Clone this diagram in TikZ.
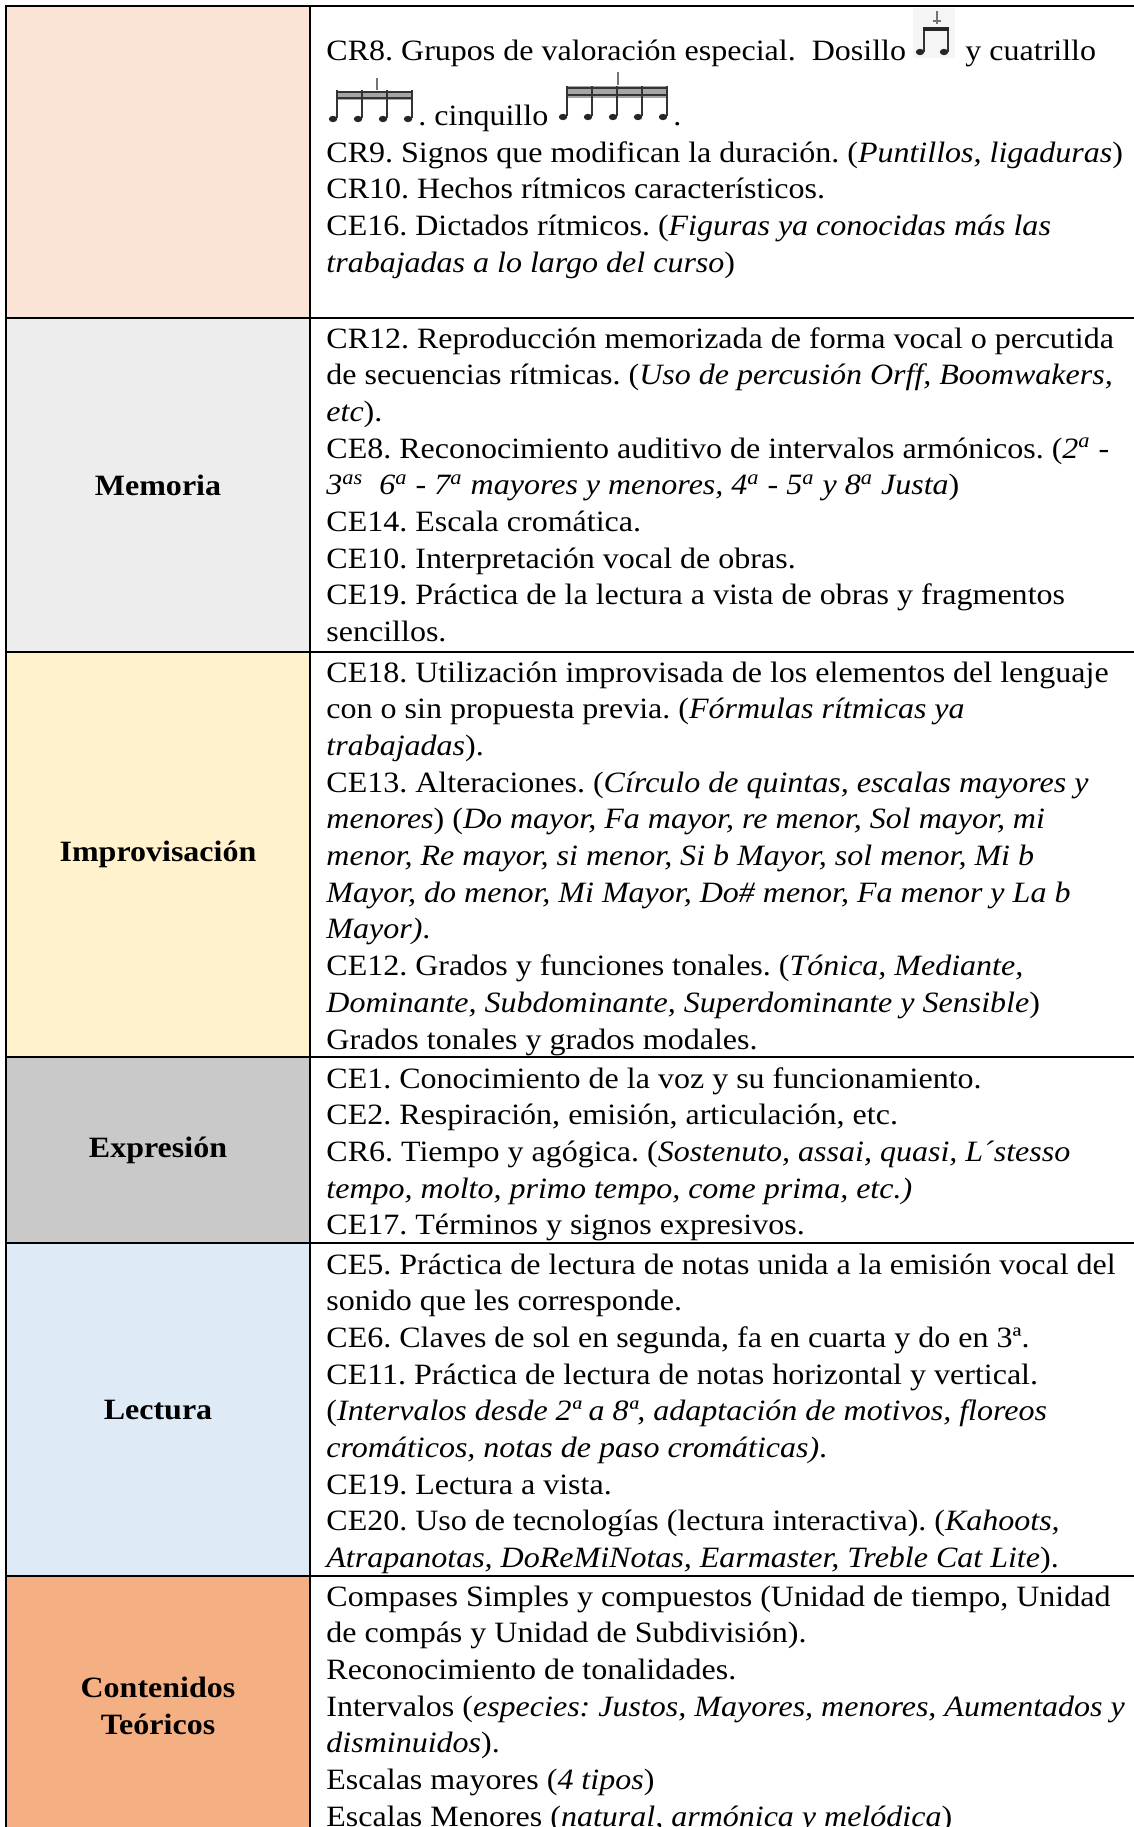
\documentclass[tikz,border=0pt]{standalone}
\usepackage{fontspec}
\setmainfont{Liberation Serif}
\usetikzlibrary{positioning}
\definecolor{rhythmfill}{HTML}{FBE4D5}
\definecolor{memfill}{HTML}{EDEDED}
\definecolor{improfill}{HTML}{FFF2CC}
\definecolor{exprfill}{HTML}{C9C9C9}
\definecolor{lectfill}{HTML}{DEEAF6}
\definecolor{teofill}{HTML}{F4B083}
\frenchspacing

\begin{document}
\begin{tikzpicture}[
    x=0.5pt, y=-0.5pt,
    rule/.style={line width=1.2pt, black},
    cell/.style={anchor=base west, inner sep=0pt, xscale=1.085, font=\fontsize{14.75}{18.35}\selectfont},
    lbl/.style={inner sep=0pt, xscale=1.085, align=center, font=\fontsize{14.75}{18.35}\selectfont\bfseries},
    head/.style={fill=black!85},
    stem/.style={line width=0.7pt, black!80},
    beam/.style={line width=1.3pt, black!80}
]
\clip (0,0) rectangle (1134,1827);

% Cell backgrounds
\fill[rhythmfill] (6,6) rectangle (310,318);
\fill[memfill] (6,318) rectangle (310,652);
\fill[improfill] (6,652) rectangle (310,1057);
\fill[exprfill] (6,1057) rectangle (310,1243);
\fill[lectfill] (6,1243) rectangle (310,1576);
\fill[teofill] (6,1576) rectangle (310,1840);

% Table rules
\draw[rule] (6,6) -- (1140,6);
\draw[rule] (6,318) -- (1140,318);
\draw[rule] (6,652) -- (1140,652);
\draw[rule] (6,1057) -- (1140,1057);
\draw[rule] (6,1243) -- (1140,1243);
\draw[rule] (6,1576) -- (1140,1576);
\draw[rule] (6,5) -- (6,1840);
\draw[rule] (310,5) -- (310,1840);

% Row labels
\node[lbl] (memoria) at (158,485) {Memoria};
\node[lbl] (improv) at (158,854) {Improvisación};
\node[lbl] (expr) at (158,1150) {Expresión};
\node[lbl] (lect) at (158,1410) {Lectura};
\node[lbl] (teoria) at (158,1706) {Contenidos\\Teóricos};

% First row, with the rhythm figures
\node[cell] (cr8) at (326,60) {CR8. Grupos de valoración especial.\ \ Dosillo};
\node[cell] (cuatr) at (965,60) {y cuatrillo};
\node[cell] (cinq) at (418,125) {. cinquillo};
\node[cell] (cinqdot) at (673,125) {.};
\node[cell] (rhythm) at (326,162) {\parbox[t]{700pt}{\raggedright
CR9. Signos que modifican la duración. (\textit{Puntillos, ligaduras})\\
CR10. Hechos rítmicos característicos.\\
CE16. Dictados rítmicos. (\textit{Figuras ya conocidas más las}\\
\textit{trabajadas a lo largo del curso})}};

% Dosillo
\fill[black!4] (913,8) rectangle (955,58);
\draw[stem] (924,52) -- (924,28) (948,52) -- (948,28);
\draw[line width=2pt, black!85] (923,29) -- (949,29);
\draw[stem, black!55] (937,11) -- (937,24) (933,21) -- (941,21);
\fill[head] (920,52) ellipse [x radius=4.2, y radius=3.2] (944,52) ellipse [x radius=4.2, y radius=3.2];

% Cuatrillo
\fill[black!35] (337,91) rectangle (412,100);
\draw[beam] (337,92) -- (412,92) (337,98) -- (412,98);
\draw[stem] (337,118) -- (337,90) (362,118) -- (362,90) (387,118) -- (387,90) (412,118) -- (412,90);
\draw[stem, black!55] (377,78) -- (377,90);
\fill[head] (333,119) ellipse [x radius=4.2, y radius=3.2] (358,119) ellipse [x radius=4.2, y radius=3.2]
    (383,119) ellipse [x radius=4.2, y radius=3.2] (408,119) ellipse [x radius=4.2, y radius=3.2];

% Cinquillo
\fill[black!35] (567,86) rectangle (667,98);
\draw[beam] (567,88) -- (667,88) (567,95) -- (667,95);
\draw[stem] (567,116) -- (567,86) (592,116) -- (592,86) (617,116) -- (617,86) (642,116) -- (642,86) (667,116) -- (667,86);
\draw[stem, black!55] (618,72) -- (618,85);
\fill[head] (563,117) ellipse [x radius=4.2, y radius=3.2] (588,117) ellipse [x radius=4.2, y radius=3.2]
    (613,117) ellipse [x radius=4.2, y radius=3.2] (638,117) ellipse [x radius=4.2, y radius=3.2]
    (663,117) ellipse [x radius=4.2, y radius=3.2];

% Memoria
\node[cell] (memtext) at (326,348) {\parbox[t]{700pt}{\raggedright
CR12. Reproducción memorizada de forma vocal o percutida\\
de secuencias rítmicas. (\textit{Uso de percusión Orff, Boomwakers,}\\
\textit{etc}).\\
CE8. Reconocimiento auditivo de intervalos armónicos. (\textit{2\textsuperscript{a}} -\\
\textit{3\textsuperscript{as}\ \ 6\textsuperscript{a} - 7\textsuperscript{a} mayores y menores, 4\textsuperscript{a} - 5\textsuperscript{a} y 8\textsuperscript{a} Justa})\\
CE14. Escala cromática.\\
CE10. Interpretación vocal de obras.\\
CE19. Práctica de la lectura a vista de obras y fragmentos\\
sencillos.}};

% Improvisacion
\node[cell] (improtext) at (326,682) {\parbox[t]{700pt}{\raggedright
CE18. Utilización improvisada de los elementos del lenguaje\\
con o sin propuesta previa. (\textit{Fórmulas rítmicas ya}\\
\textit{trabajadas}).\\
CE13. Alteraciones. (\textit{Círculo de quintas, escalas mayores y}\\
\textit{menores}) (\textit{Do mayor, Fa mayor, re menor, Sol mayor, mi}\\
\textit{menor, Re mayor, si menor, Si b Mayor, sol menor, Mi b}\\
\textit{Mayor, do menor, Mi Mayor, Do\# menor, Fa menor y La b}\\
\textit{Mayor)}.\\
CE12. Grados y funciones tonales. (\textit{Tónica, Mediante,}\\
\textit{Dominante, Subdominante, Superdominante y Sensible})\\
Grados tonales y grados modales.}};

% Expresion
\node[cell] (exprtext) at (326,1088) {\parbox[t]{700pt}{\raggedright
CE1. Conocimiento de la voz y su funcionamiento.\\
CE2. Respiración, emisión, articulación, etc.\\
CR6. Tiempo y agógica. (\textit{Sostenuto, assai, quasi, L´stesso}\\
\textit{tempo, molto, primo tempo, come prima, etc.)}\\
CE17. Términos y signos expresivos.}};

% Lectura
\node[cell] (lecttext) at (326,1274) {\parbox[t]{700pt}{\raggedright
CE5. Práctica de lectura de notas unida a la emisión vocal del\\
sonido que les corresponde.\\
CE6. Claves de sol en segunda, fa en cuarta y do en 3ª.\\
CE11. Práctica de lectura de notas horizontal y vertical.\\
(\textit{Intervalos desde 2ª a 8ª, adaptación de motivos, floreos}\\
\textit{cromáticos, notas de paso cromáticas)}.\\
CE19. Lectura a vista.\\
CE20. Uso de tecnologías (lectura interactiva). (\textit{Kahoots,}\\
\textit{Atrapanotas, DoReMiNotas, Earmaster, Treble Cat Lite}).}};

% Contenidos teoricos
\node[cell] (teotext) at (326,1606) {\parbox[t]{700pt}{\raggedright
Compases Simples y compuestos (Unidad de tiempo, Unidad\\
de compás y Unidad de Subdivisión).\\
Reconocimiento de tonalidades.\\
Intervalos (\textit{especies: Justos, Mayores, menores, Aumentados y}\\
\textit{disminuidos}).\\
Escalas mayores (\textit{4 tipos})\\
Escalas Menores (\textit{natural, armónica y melódica})}};

\end{tikzpicture}
\end{document}
